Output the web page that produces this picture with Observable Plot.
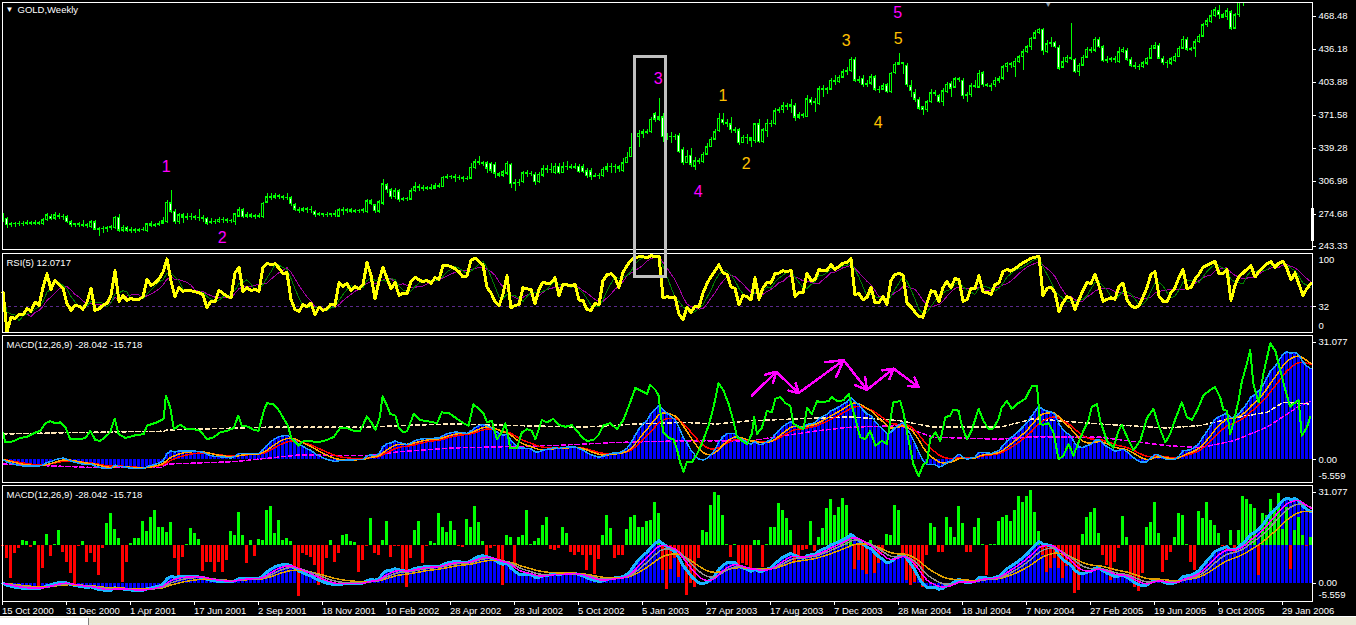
<!DOCTYPE html>
<html><head><meta charset="utf-8">
<script src="https://cdn.jsdelivr.net/npm/d3@7"></script>
<script src="https://cdn.jsdelivr.net/npm/@observablehq/plot@0.6"></script>
<style>
html,body{margin:0;padding:0;background:#000;}
#root{position:relative;width:1356px;height:625px;background:#000;overflow:hidden;}
#root svg{position:absolute;left:0;overflow:visible;}
#strip{position:absolute;left:0;top:616px;width:1356px;height:9px;background:#ece9d8;border-top:1px solid #ffffff;}
#tab{position:absolute;left:0;top:618px;width:88px;height:7px;background:#fff;border-right:1px solid #808080;}
</style></head><body><div id="root"><div id="strip"></div><div id="tab"></div></div>
<script>
// ---------- price data (weekly bars) ----------
const open = [
268.5,270.2,264.3,265.3,264.6,265.3,264.9,265.9,264.9,266.2,
264.6,268.5,272.4,270.2,273.1,272.4,271.8,266.9,263.6,264.6,
264.3,263.3,262.0,266.9,259.4,259.7,260.4,260.7,260.7,271.1,
258.7,261.3,258.7,259.4,258.7,258.9,257.8,264.6,263.3,264.0,
265.3,266.9,285.5,277.0,266.6,273.4,271.1,271.8,271.5,271.1,
270.8,270.2,265.9,266.9,266.6,269.2,268.5,267.9,266.9,272.4,
278.3,271.8,273.4,272.4,272.8,271.8,286.1,291.1,290.7,292.3,
291.4,290.4,290.1,283.5,279.0,277.7,279.3,278.3,277.0,273.4,
275.0,273.4,273.7,274.4,272.4,278.3,277.7,278.3,277.3,278.0,
277.7,276.7,287.1,283.2,277.0,284.8,302.8,297.9,291.4,297.2,
288.1,289.4,288.8,297.2,301.1,300.2,299.5,300.2,299.5,301.8,
301.1,310.3,
310.9,310.6,310.3,309.9,309.3,309.3,319.4,325.3,
324.6,324.6,324.0,323.3,314.2,312.5,314.2,323.3,303.8,305.0,
305.7,314.8,314.2,313.5,305.7,312.5,318.7,318.1,314.8,321.3,
314.8,320.7,320.4,320.0,321.3,320.7,316.8,316.8,311.3,312.5,
311.6,318.1,320.7,321.3,320.7,316.8,324.6,330.5,339.6,350.1,
353.3,354.9,354.9,372.3,367.0,369.7,350.1,350.7,350.1,351.7,
337.7,324.6,332.1,321.3,326.6,325.6,333.1,340.3,347.4,355.9,
367.3,363.8,362.5,356.6,356.6,344.2,349.4,349.1,346.1,362.5,
345.2,355.9,363.1,362.5,375.6,376.2,380.1,379.8,380.8,369.0,
371.3,369.7,386.7,383.4,382.1,397.1,396.4,396.4,405.5,403.9,
408.2,413.7,414.7,425.7,405.5,407.2,400.7,402.3,408.8,396.4,
396.7,400.7,394.1,412.7,421.2,
422.5,420.2,399.7,393.2,386.7,379.4,376.2,384.4,393.2,389.9,
384.4,394.1,402.3,398.4,406.9,405.5,389.9,390.9,399.7,398.4,
412.7,400.7,400.4,400.7,405.5,407.2,418.6,421.8,418.6,423.5,
428.4,433.3,438.2,446.3,451.9,455.1,433.3,440.8,442.7,437.5,
417.9,423.5,427.7,425.7,413.7,420.2,427.7,435.5,434.9,445.4,
438.2,424.5,425.7,426.7,423.5,433.3,434.9,425.7,420.2,418.6,
418.6,421.8,426.7,436.5,439.8,426.7,422.5,421.8,424.5,428.4,
436.5,445.4,435.5,436.5,443.0,448.6,459.4,462.6,468.2,473.4,
466.9,467.5,472.4,456.1,469.2,
482.2,488,496,505,498,508,518,530,538,535,
548,556,552,545,556,548,538,545];
const close = [
271.1,263.6,265.3,264.6,265.3,264.9,265.9,264.9,266.2,265.3,
268.5,273.4,269.8,273.4,272.4,271.5,266.9,263.6,264.6,264.3,
263.3,264.3,266.9,259.4,259.7,260.4,260.7,262.0,271.1,258.7,
261.3,258.7,259.4,258.7,258.9,259.4,264.6,263.3,264.0,265.3,
267.9,286.1,277.0,266.6,273.4,271.1,271.8,271.5,271.1,270.8,
270.2,265.3,266.9,266.6,269.2,268.5,267.9,267.6,274.4,278.3,
271.8,273.4,272.4,272.8,272.4,284.8,291.1,290.7,292.3,291.4,
290.4,290.7,284.2,279.0,277.7,279.3,278.3,279.0,273.4,275.0,
273.4,273.7,274.4,274.1,278.3,277.7,278.3,277.3,278.0,277.7,
278.3,287.1,284.8,277.7,286.5,303.8,297.9,291.4,297.2,288.1,
289.4,289.1,297.2,301.1,300.2,299.5,300.2,299.5,301.8,301.5,
310.3,310.9,
310.6,310.3,309.9,309.3,309.6,320.0,325.3,324.6,
324.0,319.1,317.4,314.2,312.5,315.5,324.0,303.8,305.0,305.4,
314.8,314.2,313.9,306.0,313.5,318.7,318.1,318.4,321.3,314.8,
320.7,320.4,320.0,320.7,315.8,315.5,311.6,311.3,312.5,312.2,
318.1,320.7,321.3,320.7,319.1,324.6,329.8,339.6,350.1,353.3,
354.9,354.6,367.3,367.0,369.7,350.1,350.7,350.1,350.4,335.4,
324.6,331.1,323.3,326.6,325.9,333.1,340.3,347.4,354.9,368.0,
363.8,363.1,356.6,355.9,344.2,349.4,349.1,346.8,362.5,345.2,
356.6,363.1,362.8,375.6,376.8,380.1,379.8,381.1,369.0,371.3,
371.0,387.3,383.4,384.4,397.1,396.4,397.1,405.5,403.9,408.2,
413.7,415.3,425.7,405.5,406.2,400.7,402.3,408.8,396.4,396.7,
399.7,394.1,412.1,421.2,422.5,
421.8,400.7,395.1,386.7,377.8,376.2,384.1,393.2,392.5,384.4,
395.1,401.6,397.4,406.9,406.2,389.9,390.9,399.7,399.4,412.1,
400.7,400.4,399.0,405.5,407.2,418.6,421.8,421.2,424.1,428.4,
433.3,438.2,446.3,451.9,455.1,434.3,440.8,442.1,438.2,416.9,
423.2,427.7,426.7,413.7,420.2,427.7,435.5,434.9,445.4,438.2,
424.5,425.7,426.7,425.7,433.3,435.5,425.7,420.2,418.6,419.2,
422.5,426.7,436.5,439.5,426.7,422.5,422.2,426.4,429.0,436.5,
445.4,435.5,436.2,443.0,448.6,459.4,463.6,468.2,474.1,469.2,
469.2,473.4,456.1,469.2,482.2,
488,496,505,498,508,518,530,538,535,548,
556,552,545,556,548,538,545,550];
const high = [
275.0,271.8,266.9,266.9,267.2,267.6,268.5,267.9,268.5,267.2,
270.2,275.7,274.4,276.4,275.0,274.4,273.4,268.5,265.9,266.9,
268.5,265.9,268.5,268.5,262.0,262.6,262.6,263.6,272.4,274.4,
263.6,262.6,261.3,260.7,260.7,261.3,265.9,267.2,265.9,267.2,
271.1,288.1,297.9,279.0,275.7,275.0,275.0,275.0,273.4,279.0,
273.4,271.8,270.2,269.2,271.1,271.1,270.2,269.2,275.7,281.6,
279.9,276.7,275.0,274.4,275.0,286.1,295.3,294.6,294.6,294.0,
293.0,294.6,292.0,284.8,281.6,281.6,281.6,282.2,278.3,276.7,
275.7,276.7,275.7,278.3,279.9,280.9,279.9,279.9,279.6,279.6,
279.9,288.8,288.8,284.2,288.1,308.3,305.0,299.5,299.5,298.5,
291.4,291.4,299.5,306.0,303.8,302.8,301.8,303.8,304.4,305.0,
311.6,313.5,
312.9,313.5,312.2,311.6,311.6,324.0,328.5,331.1,
326.6,326.6,325.6,325.6,315.8,317.4,326.6,324.6,308.3,308.3,
316.8,317.4,316.8,315.8,315.8,322.3,322.3,324.0,324.0,324.0,
325.6,326.6,323.3,324.0,323.3,323.3,319.1,319.1,314.2,314.8,
320.7,324.0,324.0,323.3,322.3,328.8,335.4,353.9,353.3,356.6,
357.2,357.2,369.7,374.6,387.6,372.9,353.3,354.9,352.7,353.3,
340.3,337.0,338.6,330.5,328.8,335.4,343.5,350.1,357.2,372.9,
373.6,367.0,369.0,359.9,358.2,351.7,352.7,350.1,363.8,367.0,
358.2,367.0,366.4,377.8,379.4,384.1,382.7,386.7,382.7,374.6,
373.6,390.9,388.6,387.6,399.7,400.7,399.0,407.2,410.4,410.4,
415.9,418.6,428.4,427.7,409.5,410.4,405.5,411.4,410.4,399.7,
402.3,402.9,413.7,423.5,431.6,
423.5,421.8,405.5,396.4,388.6,380.1,386.0,396.4,395.8,391.9,
397.4,403.9,404.9,408.8,408.8,407.2,394.1,402.3,405.5,415.3,
414.7,402.9,402.3,408.2,409.5,420.2,423.5,423.5,426.7,430.0,
435.5,439.8,448.0,454.5,456.4,456.1,444.7,447.3,444.0,439.8,
427.7,430.0,461.7,426.7,421.8,430.0,438.2,438.2,448.0,447.3,
439.8,429.0,428.4,429.0,438.2,438.2,436.5,427.7,423.5,421.2,
424.5,428.4,439.8,443.0,441.4,429.0,425.1,428.4,431.6,438.8,
448.6,447.3,438.2,445.4,450.6,461.0,465.9,474.1,476.7,478.9,
470.8,475.7,474.1,470.8,486,
492,499,509,507,512,522,535,542,544,552,
562,560,555,560,558,549,548,555];
const low = [
266.9,260.4,262.0,262.0,262.6,262.6,263.3,263.3,264.0,264.0,
263.6,267.9,268.5,268.5,269.8,268.5,265.3,262.0,262.0,262.0,
261.3,260.7,260.7,258.7,252.9,256.1,257.1,258.7,260.0,257.1,
257.1,257.1,255.5,256.1,257.1,257.4,256.8,261.3,261.3,262.6,
264.6,265.9,275.7,264.6,264.6,265.3,268.5,268.5,268.5,267.9,
266.9,263.6,264.6,264.6,265.9,265.9,265.9,265.3,263.6,271.1,
270.2,270.2,270.2,269.8,270.2,270.5,284.8,288.1,288.8,288.8,
288.1,288.1,282.2,277.7,275.0,276.4,275.7,275.7,271.8,272.4,
271.1,271.8,271.8,271.1,271.8,273.4,275.0,275.0,275.0,275.0,
275.0,275.7,283.2,275.7,275.0,283.5,295.3,288.8,288.8,286.5,
287.4,287.4,288.1,295.9,297.2,297.2,297.9,297.9,298.5,299.5,
300.5,308.3,
308.3,306.0,307.6,306.0,307.6,308.3,318.1,322.3,
321.3,314.8,314.8,309.3,310.3,310.9,312.5,299.5,297.2,301.8,
305.0,310.9,311.6,302.8,304.4,310.9,314.2,314.2,313.5,313.5,
314.2,317.4,318.1,318.1,314.8,314.2,309.3,307.6,310.3,308.3,
310.9,315.8,314.8,314.8,315.8,315.8,324.0,329.8,338.6,340.3,
348.4,352.7,353.9,364.8,365.8,345.2,346.8,343.5,346.8,333.8,
322.3,324.0,320.7,317.4,323.3,324.0,332.1,339.6,346.8,354.9,
361.5,359.2,353.3,353.9,341.9,343.5,342.9,340.3,344.2,344.2,
344.2,350.1,359.9,361.5,372.9,372.9,376.2,372.9,365.8,367.0,
368.0,369.0,381.1,374.6,381.1,389.2,391.9,395.8,400.7,402.3,
407.2,410.4,413.7,403.9,402.3,398.4,399.0,400.7,395.1,393.2,
397.4,392.5,393.2,411.4,420.2,
411.4,399.0,388.6,384.4,376.2,371.3,374.6,382.7,389.9,382.7,
380.1,392.5,388.6,397.4,403.9,386.7,384.4,389.2,397.4,397.4,
398.4,398.4,395.1,398.4,402.3,405.5,413.7,416.9,408.2,421.8,
415.3,431.6,434.9,445.4,450.6,430.0,432.3,438.2,436.5,415.3,
416.9,421.8,425.1,412.7,409.5,419.2,426.7,432.3,433.3,436.5,
423.5,422.5,423.5,421.8,422.5,431.6,424.5,418.6,415.9,415.3,
416.9,420.2,425.7,435.5,425.7,420.2,416.9,420.2,423.5,427.7,
435.5,434.3,434.3,428.4,442.1,447.3,457.1,461.0,466.9,464.9,
465.9,464.3,454.5,455.1,467.5,
478,484,492,494,496,505,515,527,530,533,
545,548,540,542,545,533,535,542];

const greenBars = [0,0.6,2.7,4.3,6,7.7,9.3,10.6,11.8,13.1,14.3,15.6,16.8,19.3,20.6,21.8,23.1,24.3,25.6,26.8,27.9,28.9,30.6,32.7,35.2,36,38.5,40.2,40.7,41.8,42.7,44.3,46,47.7,49.3,51,52.7,54.3,56,57.7,58.8,59.7,61.4,62.7,63.9,65.2,66,67.7,68.9,70.2,71.2,72.2,73.9,74.7,76,77.7,79.3,81,82.7,84.3,86,87.7,89.3,91,92.2,93.1,94.2,94.9,96,96.8,98.1,98.9,100.2,101,102.7,104.3,106,108.5,109.7,111.4,
111.8,113.5,115.1,116.4,117.6,118.9,120.1,121,122.2,123.5,124.7,125.6,126.8,128.5,129.7,131,132.2,133.1,134.7,136,137.6,138.9,140.6,142.2,143.5,144.7,146,147.6,148.9,150.1,151.8,153.5,155.1,156.8,158.1,159.7,161,161.8,163.1,163.9,164.3,165.1,166.4,167.6,168.5,169.3,170.1,171,172.2,173.5,174.7,176.4,177.6,178.9,180.1,181.4,182.6,183.5,184.7,186,187.2,187.8,188.5,189.7,191,192.2,193.1,194.3,195.6,196.8,197.6,198.9,200.1,201,202.2,203.5,204.7,206.4,207.2,208.5,210.1,211.4,212.2,213.1,214.3,215.6,216.8,218.1,219.7,221,221.8,222.6,224.3,
225.1,226.4,227.6,228.9,230.1,231,231.8,233.1,234.3,235.6,236.8,237.6,238.9,239.7,241,242.2,243.9,245.1,246.4,247.6,248.9,249.7,251,252.2,253.5,255.6,257.2,258.5,259.3,260.1,261.4,262.6,263.9,265.1,266.4,267.6,268.9,270.1,271.4,272.2,273.5,274.3,276,277.6,278.9,279.7,281,282.6,284.3,286,287.6,288.9,290.6,291.8,293.1,294.7,296,297.2,298.5,300.1,301.8,303,304.3,305.1,306,306.8,307.6,308.9,309.7,311,311.8,312.6,313.9,315.1,316.8,318.1,319.3,320.6,321.8,323.1,323.9,324.7,326,326.8];
const greenVals = [6.8,4.3,4.6,5.4,5.7,6.6,7.2,9.1,9.6,9.1,9.3,8.1,5.1,5.1,5.4,7.2,4.9,4.7,5.7,6.8,10.2,6.4,5.4,6.0,6.4,8.5,9.3,10.2,16.0,13.1,7.6,8.7,7.6,7.6,7.2,5.1,5.6,6.8,7.2,7.9,11.0,8.5,8.2,7.4,7.2,12.2,14.1,13.8,12.4,10.2,8.5,5.1,3.5,4.5,4.7,4.5,4.5,4.9,5.7,7.9,7.9,7.2,7.2,10.8,9.1,7.4,10.6,15.8,13.5,11.4,11.0,8.1,6.8,7.1,11.4,9.9,9.6,9.1,11.8,11.6,
11.4,10.2,9.1,8.5,13.8,12.7,11.6,9.3,9.7,5.1,6.8,9.1,2.9,2.9,6.8,7.6,7.2,5.1,9.9,9.3,10.2,8.7,8.2,8.6,7.2,5.6,4.7,4.9,6.2,8.5,9.1,7.6,9.9,14.3,17.9,17.1,16.4,18.7,17.4,16.0,12.2,6.8,5.4,5.1,2.6,-0.7,-3.0,-0.5,-0.7,1.4,3.9,8.5,12.9,19.1,17.3,13.9,9.7,5.7,4.7,3.9,6.4,10.7,6.4,7.9,12.2,11.8,15.2,15.6,14.1,13.5,9.1,8.1,7.6,12.9,11.4,14.6,14.3,14.6,15.6,14.6,14.8,16.4,13.5,10.2,5.6,5.1,7.2,3.5,4.7,3.9,9.7,14.3,14.6,
11.8,4.7,-1.1,-4.1,-1.1,-0.7,5.1,6.8,4.7,10.6,11.0,12.5,12.2,8.5,5.1,7.4,12.7,9.7,7.6,7.8,10.2,13.1,14.6,12.7,13.9,15.2,18.3,18.3,8.9,8.7,9.1,6.8,0.1,1.0,3.9,1.0,4.3,7.2,9.9,13.2,13.8,9.7,4.7,3.0,7.2,8.7,5.7,2.4,4.7,10.4,12.7,8.5,4.3,6.4,10.2,14.3,10.6,9.9,12.2,16.0,17.4,18.1,15.6,12.4,12.2,6.4,9.1,14.8,19.4,24.0,27.3,18.9,14.3,21.4,29.0,27.1,22.3,17.3,13.2,14.3,14.8,6.0,8.1,10.6];
// dashed long averages in panel 3
const creamBars = [0,19.3,40.2,41,66,91,99.3,111.8,128.5,145.1,158.5,170.1,178.5,186.8,211.8,224.3,232.6,249.3,257.6,274.3,291,299.3,307.6,316,320.1,326.8];
const creamVals = [6.4,6.8,7.1,7.4,8.1,8.1,8.5,8.9,8.5,8.1,8.9,9.3,8.9,9.7,10.7,9.7,8.1,8.1,10.2,8.9,7.9,8.5,10.4,11.8,14.3,13.9];
const magBars = [0,24.3,39.3,41,57.7,74.3,91,99.3,111.8,136.8,153.5,170.1,186.8,203.5,211.8,224.3,232.6,249.3,257.6,274.3,291,299.3,307.6,316,324.3,326.8];
const magVals = [-1.1,-2.0,-2.0,-1.1,-0.5,1.2,1.0,2.0,2.9,3.5,4.3,4.7,4.7,7.2,8.1,8.5,5.6,5.1,5.7,5.6,3.5,3.0,4.7,8.1,13.5,14.5];

// ---------- green/red histogram of panel 4 (offset from its baseline) ----------
const hist4Base = 12;
const hist4 = [
-0.5,-4.2,-10.5,-2.6,-1.1,1.6,1.1,-0.8,1.3,-13.2,
-7.4,3.5,-3.4,0.2,4.7,-2.1,-5.3,-8.9,-12.6,-0.5,
1.1,-5.3,-2.6,-5.3,-9.5,-1.1,6.8,10.0,5.1,2.1,
-11.6,-5.3,0.5,2.1,2.1,7.7,4.5,8.9,11.1,5.8,
5.8,4.2,7.1,-4.2,-10.0,-3.7,0.2,5.3,3.7,1.8,
-8.1,-5.3,-5.3,-8.4,-5.3,-8.4,-4.7,4.4,3.2,10.3,
3.2,-5.8,1.6,-3.5,1.9,1.6,11.1,12.3,3.7,7.9,
1.6,2.1,1.1,-6.8,-16.1,-2.6,-3.2,-3.7,-6.3,-12.6,
-11.1,-4.2,1.6,-5.3,-2.6,3.2,3.5,1.3,0.8,-8.4,
-4.7,-0.5,8.4,-2.6,-3.2,1.6,7.4,-3.7,-0.5,-0.5,
-8.4,-13.4,-4.2,4.7,7.4,-5.8,-0.3,1.1,0.5,10.0,
5.8,4.2,
7.4,4.7,-0.5,-0.8,8.1,5.8,12.4,7.1,
1.1,-4.2,-1.1,-0.5,-5.8,-12.8,3.2,2.6,-7.4,2.6,
3.2,11.1,0.2,1.1,2.1,6.3,8.9,-1.4,-1.6,-1.1,
5.8,3.9,-2.1,-3.2,-2.1,-3.2,-7.9,-3.2,-9.3,-4.5,
3.2,9.5,5.3,-4.0,-3.2,-3.2,4.9,8.9,9.5,5.8,
5.8,7.4,7.9,13.4,10.0,-7.9,-14.0,-7.7,-4.2,-10.0,
-4.2,-15.8,-12.1,-13.2,-4.2,4.7,4.2,12.6,16.8,15.8,
9.5,0.3,-3.7,0.3,-6.3,-5.8,-6.3,-7.9,1.4,1.6,
-7.1,0.2,5.8,5.8,13.2,11.1,8.4,4.7,-5.1,-3.7,
-1.6,-1.4,7.4,-1.8,2.6,5.3,11.6,14.4,9.5,12.1,
14.7,12.6,3.9,-7.7,-4.7,-7.9,-9.3,1.6,-8.9,-5.8,
-2.4,3.5,3.2,12.6,11.1,
-3.2,-11.1,-12.6,-11.6,-6.6,-13.4,-3.2,6.8,5.8,-2.1,
-2.1,8.9,5.5,2.6,12.3,6.8,-2.1,-2.1,5.5,8.6,
0.3,-9.5,0.3,0.3,7.7,8.9,9.5,7.4,11.1,15.5,
13.7,15.5,17.2,10.5,4.5,-3.2,-8.4,-7.4,-4.2,-7.4,
-10.5,-6.8,-6.3,-15.3,-14.2,3.5,8.9,10.5,11.6,3.7,
-3.2,-6.3,-11.1,-5.3,-1.1,9.2,2.4,-9.5,-13.4,-14.7,
-8.9,5.8,7.1,13.7,3.9,-8.4,-4.7,-2.1,2.6,10.0,
9.3,0.2,-5.3,-7.9,10.7,8.4,13.4,7.9,6.3,3.7,
-0.5,-1.6,4.7,-2.1,4.7,
15.5,14.4,12.9,11.6,-9.5,10.0,9.5,14.4,11.6,16.3,
5.0,12.1,-7.7,4.7,8.9,3.2,-0.5,2.6];

// ---------- axis labels ----------
const priceTicks = [468.48,436.18,403.88,371.58,339.28,306.98,274.68,243.33];
const dateBars = [0,16,32,48,64,80,96,112,128,144,160,176,192,208,224,240,256,272,288,304,320];
const dateLabels = ["15 Oct 2000","31 Dec 2000","1 Apr 2001","17 Jun 2001","2 Sep 2001","18 Nov 2001","10 Feb 2002","28 Apr 2002","28 Jul 2002","5 Oct 2002","5 Jan 2003","27 Apr 2003","17 Aug 2003","7 Dec 2003","28 Mar 2004","18 Jul 2004","7 Nov 2004","27 Feb 2005","19 Jun 2005","9 Oct 2005","29 Jan 2006"];
const macdTicks = [31.077, 0, -5.559];
const macdTickLabels = ["31.077","0.00","-5.559"];

// ---------- annotations (data coordinates) ----------
const magentaWaveText = ["1","2","3","4","5"];
const magentaWaveBar = [40.8,54.8,163.8,173.8,223.7];
const magentaWavePrice = [321.4,251.9,407.5,296.9,472.1];
const orangeWaveText = ["1","2","3","4","5"];
const orangeWaveBar = [180,185.8,210.8,218.8,223.8];
const orangeWavePrice = [390.4,324.3,444.7,364.0,446.7];
const boxBars = [157.95,165.7];
const boxTopPrice = 429.5;
const boxBottomRsi = 70.3;
const arrowBars = [187.25,193.3,198.9,210.15,216,222.65,228.9];
const arrowVals = [16.0,21.9,16.6,24.8,17.4,22.7,18.1];
const shiftMarkerBar = 261.3;
const scrollMarkerPrices = [248.2, 280.3];

// ---------- build ----------
const n = close.length;
const LIME = "#00ff00";
const FONT = '"Liberation Sans", Arial, sans-serif';
const idx = d3.range(n);
const candles = idx.map(i => ({i, o: open[i], h: high[i], l: low[i], c: close[i]}));

function ema(src, p){ const k = 2/(p+1); const out = []; src.forEach((v,i)=>out.push(i===0 ? v : out[i-1] + k*(v-out[i-1]))); return out; }
function sma(src, p){ return src.map((v,i)=>{ const s = Math.max(0,i-p+1); let t=0; for(let j=s;j<=i;j++) t+=src[j]; return t/(i-s+1); }); }
function rsi(src, p){ const out=[50]; let ag=0, al=0; for(let i=1;i<src.length;i++){ const d=src[i]-src[i-1]; const g=Math.max(d,0), l=Math.max(-d,0); const m=Math.min(i,p); ag=(ag*(m-1)+g)/m; al=(al*(m-1)+l)/m; out.push(al===0?100:100-100/(1+ag/al)); } return out; }

const rsiV = rsi(close, 5), rsiG = sma(rsiV, 4), rsiP = sma(rsiV, 7);
const e12 = ema(close, 12), e26 = ema(close, 26);
const macd = idx.map(i => e12[i] - e26[i]);
const sig5 = ema(macd, 5), sig9 = ema(macd, 9), s4 = ema(macd, 4), s7 = ema(macd, 7), s13 = ema(macd, 13);
const series = arr => idx.map(i => ({i, v: arr[i]}));
const pts = (b, v) => b.map((x,k) => ({i: x, v: v[k]}));

const root = document.getElementById("root");
function place(svg, top){ svg.setAttribute("shape-rendering","crispEdges"); svg.style.position="absolute"; svg.style.left="0px"; svg.style.top=top+"px"; root.appendChild(svg); }
const xDomain = [-0.125, n - 0.625];
function base(h, mt, mb){ return {width:1356, height:h, marginLeft:2, marginRight:44, marginTop:mt, marginBottom:mb,
  x:{domain:xDomain, axis:null}, style:{background:"transparent", color:"white", fontFamily:FONT, fontSize:"9.5px", overflow:"visible"}}; }

// Panel 1: candles
const bull = candles.filter(d => d.c >= d.o), bear = candles.filter(d => d.c < d.o);
place(Plot.plot({...base(251, 2, 2), y:{domain:[240.1, 481.9]}, marks:[
  Plot.ruleX(candles, {x:"i", y1:"l", y2:"h", stroke:LIME, clip:true}),
  Plot.rect(candles, {x1:d=>d.i-0.375, x2:d=>d.i+0.375, y1:"o", y2:"c", fill:LIME, insetTop:-0.5, insetBottom:-0.5, clip:true}),
  Plot.rect(bull, {x1:d=>d.i-0.125, x2:d=>d.i+0.125, y1:"o", y2:"c", fill:"black", insetTop:1, insetBottom:1, clip:true}),
  Plot.rect(bear, {x1:d=>d.i-0.125, x2:d=>d.i+0.125, y1:"o", y2:"c", fill:"white", insetTop:1, insetBottom:1, clip:true}),
  Plot.frame({stroke:"white"}),
  Plot.axisY({anchor:"right", ticks:priceTicks, tickFormat:d=>d.toFixed(2), tickSize:3, tickPadding:3, label:null}),
  Plot.ruleX([xDomain[1]], {y1:scrollMarkerPrices[0], y2:scrollMarkerPrices[1], stroke:"white", strokeWidth:3}),
  Plot.text([shiftMarkerBar], {x:d=>d, frameAnchor:"top", text:()=>"▼", fill:"#8c9aa8", fontSize:7, dy:0}),
  Plot.text(["GOLD,Weekly"], {frameAnchor:"top-left", dx:15, dy:4, fill:"white"}),
  Plot.text(["▼"], {frameAnchor:"top-left", dx:3, dy:4, fill:"white", fontSize:8}),
  Plot.text(magentaWaveText, {x:(d,k)=>magentaWaveBar[k], y:(d,k)=>magentaWavePrice[k], text:d=>d, fill:"#ff00ff", fontSize:16}),
  Plot.text(orangeWaveText, {x:(d,k)=>orangeWaveBar[k], y:(d,k)=>orangeWavePrice[k], text:d=>d, fill:"#ffc000", fontSize:16}),
  Plot.ruleX(boxBars, {x:d=>d, y1:boxTopPrice, y2:236, stroke:"#c0c0c0", strokeWidth:3}),
  Plot.ruleY([boxTopPrice], {x1:boxBars[0], x2:boxBars[1], stroke:"#c0c0c0", strokeWidth:3, strokeLinecap:"square"})
]}), 0);

// Panel 2: RSI
place(Plot.plot({...base(82, 1.5, 1.5), y:{domain:[0,100]}, marks:[
  Plot.ruleY([32], {stroke:"#5a2a8a", strokeDasharray:"3,3"}),
  Plot.line(series(rsiP), {x:"i", y:"v", stroke:"#a000a0", strokeWidth:1}),
  Plot.line(series(rsiG), {x:"i", y:"v", stroke:"#008000", strokeWidth:1}),
  Plot.line(series(rsiV), {x:"i", y:"v", stroke:"#ffff00", strokeWidth:3}),
  Plot.frame({stroke:"white"}),
  Plot.axisY({anchor:"right", ticks:[100], tickSize:0, tickPadding:6, dy:7, label:null}),
  Plot.axisY({anchor:"right", ticks:[32], tickSize:3, tickPadding:3, label:null}),
  Plot.axisY({anchor:"right", ticks:[0], tickSize:0, tickPadding:6, dy:-6, label:null}),
  Plot.text(["RSI(5) 12.0717"], {frameAnchor:"top-left", dx:4, dy:6, fill:"white"}),
  Plot.ruleX(boxBars, {x:d=>d, y1:104, y2:boxBottomRsi, stroke:"#c0c0c0", strokeWidth:3}),
  Plot.ruleY([boxBottomRsi], {x1:boxBars[0], x2:boxBars[1], stroke:"#c0c0c0", strokeWidth:3, strokeLinecap:"square"})
]}), 251);

// Panel 3: MACD with oscillator
const macdAxes = () => [
  Plot.axisY({anchor:"right", ticks:[macdTicks[0]], tickFormat:()=>macdTickLabels[0], tickSize:3, tickPadding:3, dy:7, label:null}),
  Plot.axisY({anchor:"right", ticks:[macdTicks[1]], tickFormat:()=>macdTickLabels[1], tickSize:3, tickPadding:3, label:null}),
  Plot.axisY({anchor:"right", ticks:[macdTicks[2]], tickFormat:()=>macdTickLabels[2], tickSize:0, tickPadding:6, dy:-6, label:null})
];
const macdDomain = [macdTicks[2], macdTicks[0]];
const segs = arrowBars.slice(1).map((b,k)=>({x1:arrowBars[k], y1:arrowVals[k], x2:b, y2:arrowVals[k+1]}));
place(Plot.plot({...base(150, 1.5, 1.5), y:{domain:macdDomain}, marks:[
  Plot.rect(series(macd), {x1:d=>d.i-0.3, x2:d=>d.i+0.3, y1:0, y2:"v", fill:"#0000ff"}),
  Plot.line(pts(magBars, magVals), {x:"i", y:"v", stroke:"#ff00ff", strokeDasharray:"4,3"}),
  Plot.line(pts(creamBars, creamVals), {x:"i", y:"v", stroke:"#ffe8b8", strokeDasharray:"4,3"}),
  Plot.line(series(sig9), {x:"i", y:"v", stroke:"#ff0000"}),
  Plot.line(series(sig5), {x:"i", y:"v", stroke:"#ffa500"}),
  Plot.line(series(macd), {x:"i", y:"v", stroke:"#1e9fff"}),
  Plot.line(pts(greenBars, greenVals), {x:"i", y:"v", stroke:LIME, strokeWidth:2}),
  Plot.arrow(segs, {x1:"x1", y1:"y1", x2:"x2", y2:"y2", stroke:"#ff00ff", strokeWidth:2.5, headLength:11, headAngle:60}),
  Plot.frame({stroke:"white"}),
  ...macdAxes(),
  Plot.text(["MACD(12,26,9) -28.042 -15.718"], {frameAnchor:"top-left", dx:4, dy:6, fill:"white"})
]}), 333);

// Panel 4: MACD with histogram
const hist = idx.map(i => ({i, v: hist4Base + hist4[i], up: hist4[i] >= 0}));
place(Plot.plot({...base(142, 1.5, 24.5), x:{domain:xDomain}, y:{domain:macdDomain}, marks:[
  Plot.rect(series(macd), {x1:d=>d.i-0.3, x2:d=>d.i+0.3, y1:0, y2:"v", fill:"#0000ff"}),
  Plot.rect(hist.filter(d=>d.up), {x1:d=>d.i-0.375, x2:d=>d.i+0.375, y1:hist4Base, y2:"v", fill:"#00ff00"}),
  Plot.rect(hist.filter(d=>!d.up), {x1:d=>d.i-0.375, x2:d=>d.i+0.375, y1:hist4Base, y2:"v", fill:"#ff0000"}),
  Plot.line(series(macd), {x:"i", y:"v", stroke:"#18b4ff", strokeWidth:3}),
  Plot.line(series(s13), {x:"i", y:"v", stroke:"#e0a000"}),
  Plot.line(series(s7), {x:"i", y:"v", stroke:"#909090"}),
  Plot.line(series(s4), {x:"i", y:"v", stroke:"#ff00ff"}),
  Plot.frame({stroke:"white"}),
  ...macdAxes(),
  Plot.axisX({anchor:"bottom", ticks:dateBars, tickFormat:d=>dateLabels[dateBars.indexOf(d)], tickSize:4, tickPadding:2, textAnchor:"start", dx:-1, label:null}),
  Plot.text(["MACD(12,26,9) -28.042 -15.718"], {frameAnchor:"top-left", dx:4, dy:6, fill:"white"})
]}), 483);
</script></body></html>
